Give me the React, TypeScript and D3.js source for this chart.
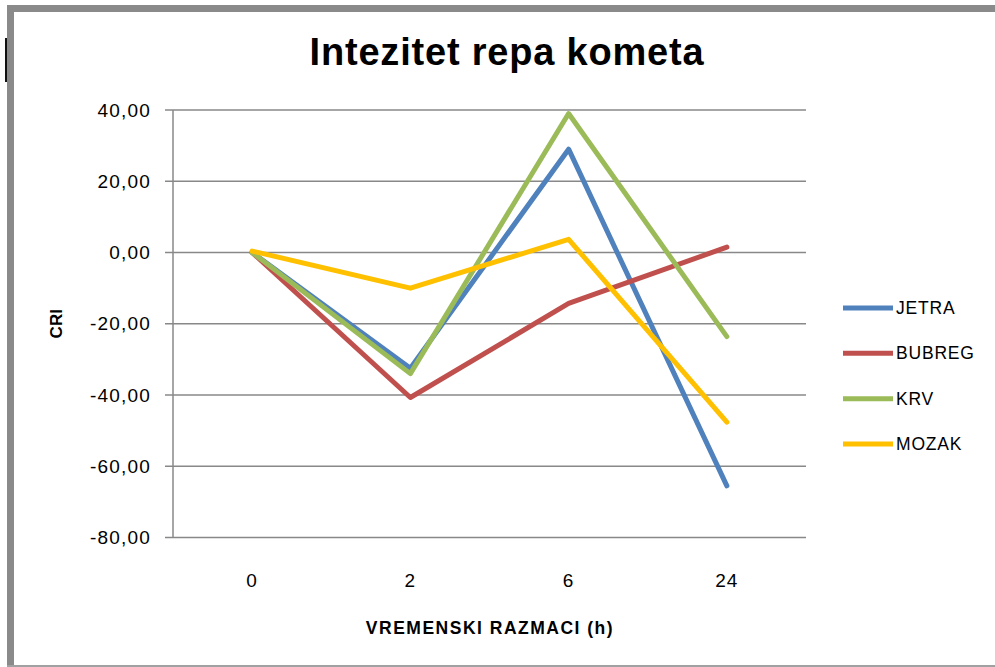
import React from "react";
import * as d3 from "d3";

const categories = ["0", "2", "6", "24"];
const yTicks = [40, 20, 0, -20, -40, -60, -80];
const seriesNames = ["JETRA", "BUBREG", "KRV", "MOZAK"];
const jetra = [0, -32.5, 29.0, -65.5];
const bubreg = [0, -40.7, -14.3, 1.5];
const krv = [0, -34.0, 39.0, -23.6];
const mozak = [0.4, -10.0, 3.7, -47.6];
const seriesColors = ["#4F81BD", "#C0504D", "#9BBB59", "#FFC000"];

const W = 995;
const H = 667;
const FONT = "'Liberation Sans', Arial, sans-serif";

export default function App() {
  const allSeries = [jetra, bubreg, krv, mozak];
  const plotLeft = 173;
  const plotRight = 806;
  const plotTop = 110;
  const plotBottom = 537.5;

  const x = d3.scaleBand<string>().domain(categories).range([plotLeft, plotRight]).padding(0);
  const y = d3.scaleLinear().domain([-80, 40]).range([plotBottom, plotTop]);
  const fmt = (v: number) => v.toFixed(2).replace(".", ",");
  const line = d3
    .line<number>()
    .x((_, i) => (x(categories[i]) as number) + x.bandwidth() / 2)
    .y((d) => y(d));

  const legendY = d3.scaleLinear().domain([0, 3]).range([308, 444]);

  return (
    <svg
      width={W}
      height={H}
      style={{ position: "absolute", left: 0, top: 0, background: "#fff" }}
      fontFamily={FONT}
    >
      {/* frame */}
      <rect x={0} y={0} width={W} height={H} fill="#fff" />
      <rect x={7} y={5} width={W - 7} height={7} fill="#8a8a8a" />
      <rect x={7} y={5} width={7} height={H - 5} fill="#8a8a8a" />
      <rect x={7} y={665} width={W - 7} height={2} fill="#a0a0a0" />
      <rect x={5} y={38} width={2} height={44} fill="#111" />

      {/* title */}
      <text
        x={507}
        y={65}
        textAnchor="middle"
        fontSize={38}
        fontWeight="bold"
        letterSpacing={0.8}
        fill="#000"
      >
        Intezitet repa kometa
      </text>

      {/* gridlines */}
      {yTicks.map((t) => (
        <g key={t}>
          <line x1={plotLeft - 8} x2={plotRight} y1={y(t)} y2={y(t)} stroke="#888" strokeWidth={1.5} />
          <text
            x={151}
            y={y(t)}
            dy="0.35em"
            textAnchor="end"
            fontSize={19}
            letterSpacing={1.2}
            fill="#000"
          >
            {fmt(t)}
          </text>
        </g>
      ))}
      <line x1={plotLeft} x2={plotLeft} y1={plotTop} y2={plotBottom} stroke="#888" strokeWidth={1.5} />

      {/* x labels */}
      {categories.map((c) => (
        <text
          key={c}
          x={(x(c) as number) + x.bandwidth() / 2}
          y={580}
          dy="0.35em"
          textAnchor="middle"
          fontSize={19}
          letterSpacing={1}
          fill="#000"
        >
          {c}
        </text>
      ))}

      {/* axis titles */}
      <text x={490} y={628} dy="0.35em" textAnchor="middle" fontSize={17.5} fontWeight="bold" letterSpacing={1.5}>
        VREMENSKI RAZMACI (h)
      </text>
      <text
        transform={`translate(56,${(plotTop + plotBottom) / 2}) rotate(-90)`}
        dy="0.35em"
        textAnchor="middle"
        fontSize={17}
        fontWeight="bold"
      >
        CRI
      </text>

      {/* lines */}
      {allSeries.map((s, i) => (
        <path
          key={seriesNames[i]}
          d={line(s) as string}
          fill="none"
          stroke={seriesColors[i]}
          strokeWidth={5}
          strokeLinejoin="round"
          strokeLinecap="round"
        />
      ))}

      {/* legend */}
      {seriesNames.map((n, i) => (
        <g key={n}>
          <line x1={843} x2={893} y1={legendY(i)} y2={legendY(i)} stroke={seriesColors[i]} strokeWidth={5} />
          <text x={896} y={legendY(i)} dy="0.35em" fontSize={17.5} letterSpacing={0.8} fill="#000">
            {n}
          </text>
        </g>
      ))}
    </svg>
  );
}
